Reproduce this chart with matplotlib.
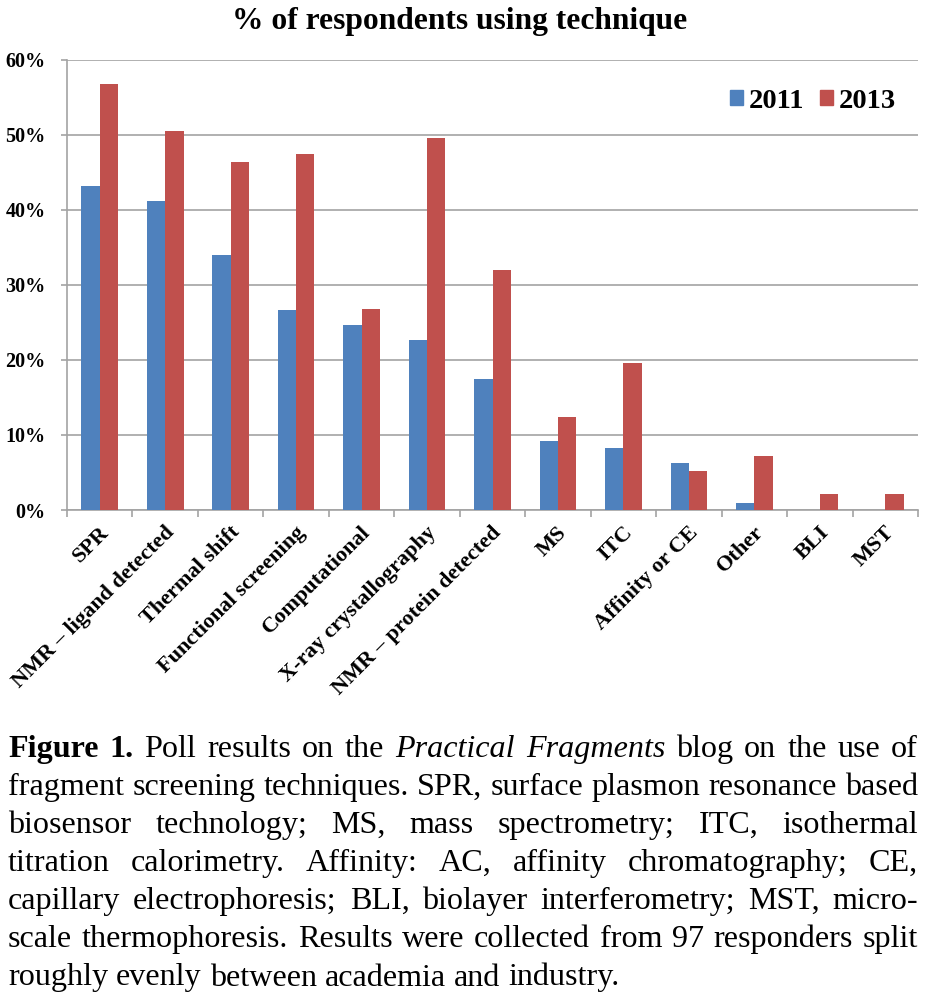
import numpy as np
import matplotlib
matplotlib.use("Agg")
from matplotlib import pyplot as plt
from matplotlib.patches import Patch
from matplotlib.ticker import FixedLocator, PercentFormatter
import matplotlib.transforms as mtransforms

techniques = ["SPR", "NMR – ligand detected", "Thermal shift", "Functional screening",
              "Computational", "X-ray crystallography", "NMR – protein detected", "MS",
              "ITC", "Affinity or CE", "Other", "BLI", "MST"]
pct_2011 = [43.2, 41.2, 34.0, 26.7, 24.7, 22.7, 17.4, 9.2, 8.2, 6.2, 0.9, 0.0, 0.0]
pct_2013 = [56.7, 50.5, 46.4, 47.4, 26.8, 49.5, 32.0, 12.4, 19.6, 5.2, 7.2, 2.1, 2.1]
years = ["2011", "2013"]
colors = ["#4F81BD", "#C0504D"]
yticks = [0, 10, 20, 30, 40, 50, 60]

caption_lines = [
    [("Figure", "bold"), ("1.", "bold"), ("Poll", ""), ("results", ""), ("on", ""), ("the", ""),
     ("Practical", "italic"), ("Fragments", "italic"), ("blog", ""), ("on", ""), ("the", ""),
     ("use", ""), ("of", "")],
    "fragment screening techniques. SPR, surface plasmon resonance based",
    "biosensor technology; MS, mass spectrometry; ITC, isothermal",
    "titration calorimetry. Affinity: AC, affinity chromatography; CE,",
    "capillary electrophoresis; BLI, biolayer interferometry; MST, micro-",
    "scale thermophoresis. Results were collected from 97 responders split",
    "roughly evenly between academia and industry.",
]

W, H = 926, 999
fig = plt.figure(figsize=(W / 100, H / 100), dpi=100)
serif = "Liberation Serif"
grid_c = "#A3A3A3"

ax = fig.add_axes([67 / W, 1 - 510 / H, 851 / W, 450.5 / H])
x = np.arange(len(techniques))
bw = 0.28
ax.bar(x - bw / 2, pct_2011, bw, color=colors[0], zorder=3)
ax.bar(x + bw / 2, pct_2013, bw, color=colors[1], zorder=3)

ax.set_xlim(-0.5, len(techniques) - 0.5)
ax.set_ylim(0, 60)
ax.set_yticks(yticks)
ax.yaxis.set_major_formatter(PercentFormatter(decimals=0))
ax.grid(axis="y", color=grid_c, linewidth=1.2, zorder=0)
for s in ["top", "right"]:
    ax.spines[s].set_visible(False)
for s in ["left", "bottom"]:
    ax.spines[s].set_color(grid_c)
    ax.spines[s].set_linewidth(1.2)
ax.tick_params(axis="y", length=4.5, width=1.2, color=grid_c, pad=11)
for lab in ax.get_yticklabels():
    lab.set_fontfamily(serif)
    lab.set_fontweight("bold")
    lab.set_fontsize(14.5)

ax.set_xticks(x)
ax.set_xticklabels(techniques, rotation=45, ha="right", va="center",
                   rotation_mode="anchor", fontfamily=serif, fontweight="bold", fontsize=16)
ax.tick_params(axis="x", which="major", length=0, pad=14)
ax.xaxis.set_minor_locator(FixedLocator(np.arange(-0.5, len(techniques), 1.0)))
ax.tick_params(axis="x", which="minor", length=5, width=1.2, color=grid_c)
shift = mtransforms.ScaledTranslation(6 / 100, 0, fig.dpi_scale_trans)
for lab in ax.get_xticklabels():
    lab.set_transform(lab.get_transform() + shift)

fig.text(460 / W, 1 - 22 / H, "% of respondents using technique", ha="center", va="center",
         fontfamily=serif, fontweight="bold", fontsize=22.7)

handles = [Patch(color=c, label=y) for c, y in zip(colors, years)]
ax.legend(handles=handles, ncol=2, frameon=False, loc="center right",
          bbox_to_anchor=(910 / W, 1 - 101 / H), bbox_transform=fig.transFigure,
          borderpad=0, handlelength=0.45, handleheight=0.45, handletextpad=0.2,
          columnspacing=0.55, prop={"family": serif, "weight": "bold", "size": 20.5})

# caption, justified between two margins
left, right = 8, 918
baselines = [757, 795, 833, 871, 909, 947, 985.5]
renderer = fig.canvas.get_renderer()


def measure(s, size, style=""):
    t = fig.text(0, 0, s, fontfamily=serif, fontsize=size,
                 fontweight="bold" if style == "bold" else "normal",
                 fontstyle="italic" if style == "italic" else "normal")
    w = t.get_window_extent(renderer).width
    t.remove()
    return w


line_words = []
for line in caption_lines:
    if isinstance(line, str):
        line_words.append([(w, "") for w in line.split()])
    else:
        line_words.append(line)

# pick the largest size where every justified line still fits with normal spaces
base = 20
sp = measure("a b", base) - measure("ab", base)
widest = max(sum(measure(w, base, st) for w, st in ws) + sp * (len(ws) - 1)
             for ws in line_words[:-1])
cap_size = base * (right - left) / widest

space = measure("a b", cap_size) - measure("ab", cap_size)
for i, words in enumerate(line_words):
    texts = []
    for w, st in words:
        t = fig.text(0, 1 - baselines[i] / H, w, fontfamily=serif, fontsize=cap_size,
                     fontweight="bold" if st == "bold" else "normal",
                     fontstyle="italic" if st == "italic" else "normal",
                     va="baseline", ha="left")
        texts.append(t)
    widths = [t.get_window_extent(renderer).width for t in texts]
    if i < len(line_words) - 1:
        gap = (right - left - sum(widths)) / (len(words) - 1)
    else:
        gap = space
    pos = left
    for t, w in zip(texts, widths):
        t.set_x(pos / W)
        pos += w + gap

fig.savefig("out.png", dpi=100)
